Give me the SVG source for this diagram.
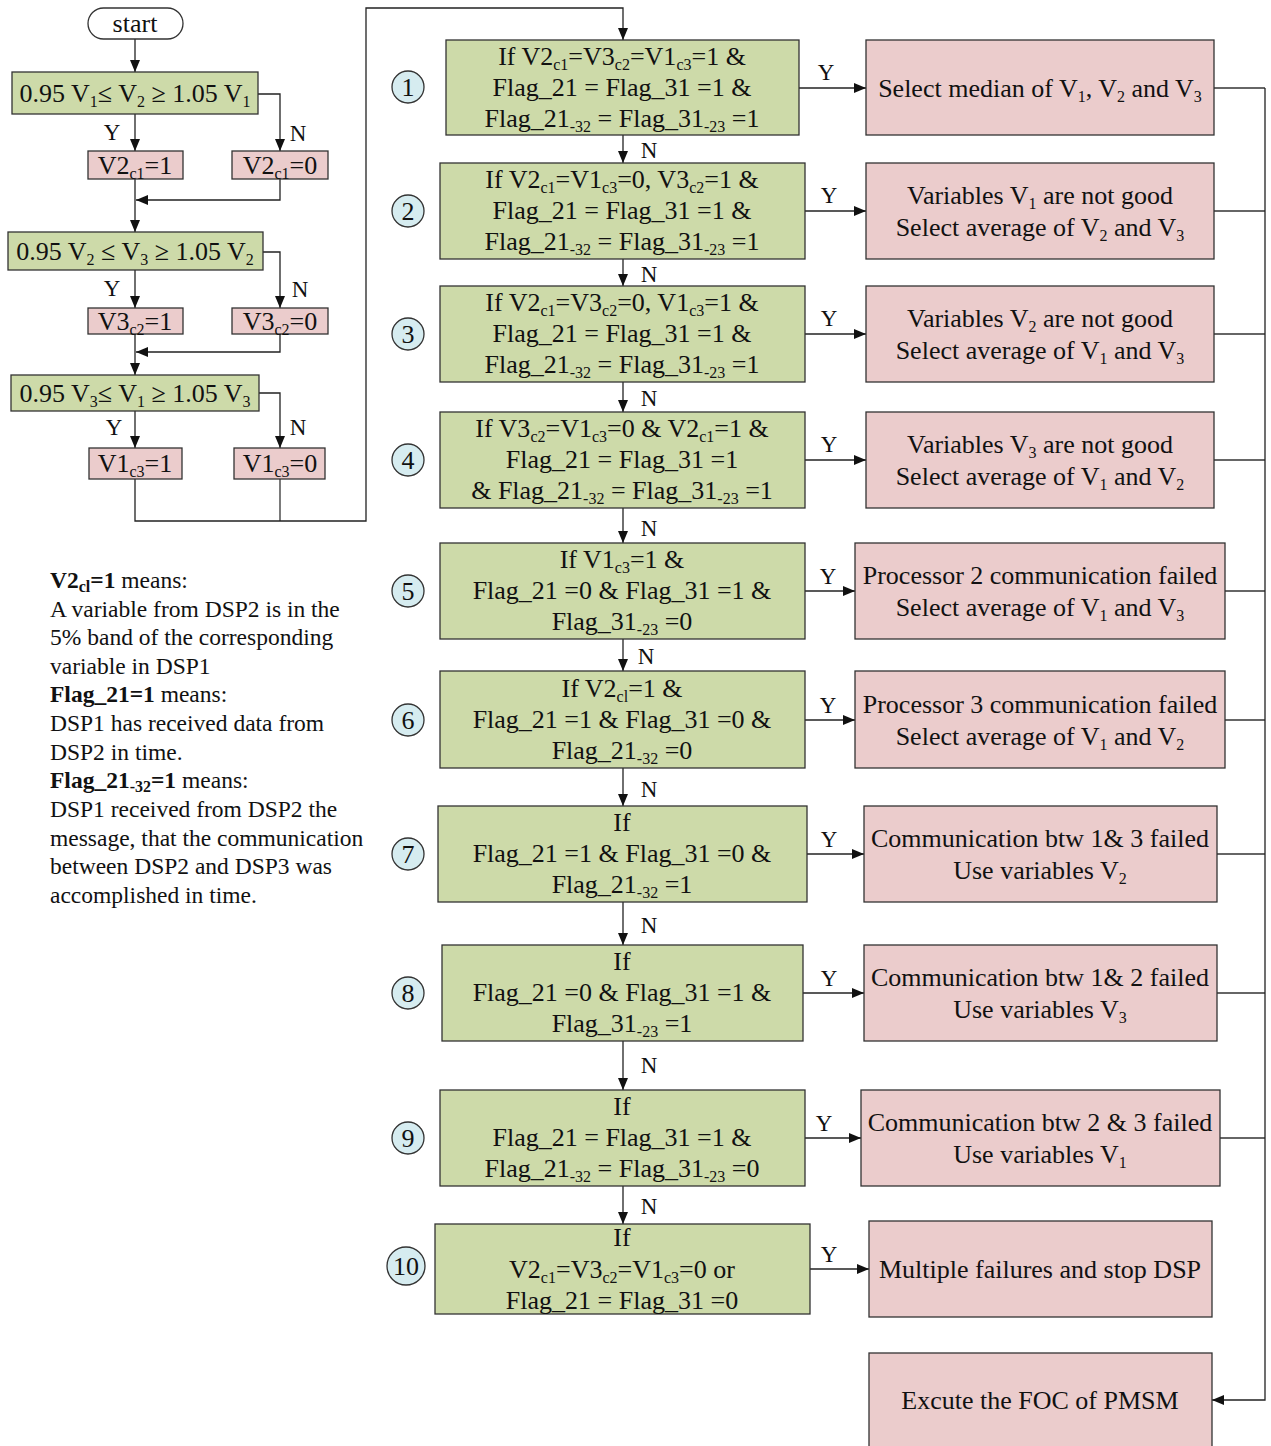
<svg xmlns="http://www.w3.org/2000/svg" width="1271" height="1446" viewBox="0 0 1271 1446">
  <style>
    text { font-family: "Liberation Serif", "Times New Roman", serif; fill: #111; }
    .t { font-size: 26px; text-anchor: middle; }
    .lbl { font-size: 23px; text-anchor: middle; }
    .leg { font-size: 23.5px; }
    .s { font-size: 16px; }
    .b { font-weight: bold; }
    .cond { fill: #cddaa9; stroke: #333; stroke-width: 1.3; }
    .act { fill: #ebcccc; stroke: #333; stroke-width: 1.3; }
    .num { fill: #d6ecf0; stroke: #333; stroke-width: 1.3; }
    .term { fill: #fff; stroke: #333; stroke-width: 1.3; }
    .wire { fill: none; stroke: #333; stroke-width: 1.3; }
    .arr { fill: none; stroke: #222; stroke-width: 1.3; marker-end: url(#head); }
  </style>
  <defs>
    <marker id="head" viewBox="0 0 12 10" refX="12" refY="5" markerWidth="12" markerHeight="10" markerUnits="userSpaceOnUse" orient="auto">
      <path d="M0,0 L12,5 L0,10 z" fill="#111"/>
    </marker>
  </defs>
  <rect width="1271" height="1446" fill="#fff"/>

  <!-- connectors -->
  <g id="connectors">
    <!-- left pre-check chain -->
    <path class="arr" d="M135,39 V72"/>
    <path class="arr" d="M258,94 H280 V151"/>
    <path class="arr" d="M135,114 V151"/>
    <path class="arr" d="M280,179 V200 H136"/>
    <path class="arr" d="M135,179 V232"/>
    <path class="arr" d="M263,252 H280 V308"/>
    <path class="arr" d="M135,270 V308"/>
    <path class="arr" d="M280,334 V352 H136"/>
    <path class="arr" d="M135,334 V375"/>
    <path class="arr" d="M259,393 H280 V448"/>
    <path class="arr" d="M135,411 V448"/>
    <path class="wire" d="M280,479 V521"/>
    <path class="arr" d="M135,479 V521 H366 V8 H623 V40"/>
    <!-- N chain -->
    <path class="arr" d="M623,135 V163"/>
    <path class="arr" d="M623,259 V286"/>
    <path class="arr" d="M623,382 V412"/>
    <path class="arr" d="M623,508 V543"/>
    <path class="arr" d="M623,639 V671"/>
    <path class="arr" d="M623,768 V806"/>
    <path class="arr" d="M623,902 V945"/>
    <path class="arr" d="M623,1041 V1090"/>
    <path class="arr" d="M623,1186 V1224"/>
    <!-- Y branches -->
    <path class="arr" d="M799,88 H866"/>
    <path class="arr" d="M805,211 H866"/>
    <path class="arr" d="M805,334 H866"/>
    <path class="arr" d="M805,460 H866"/>
    <path class="arr" d="M805,591 H855"/>
    <path class="arr" d="M805,720 H855"/>
    <path class="arr" d="M807,854 H864"/>
    <path class="arr" d="M803,993 H864"/>
    <path class="arr" d="M805,1138 H861"/>
    <path class="arr" d="M810,1269 H869"/>
    <!-- collector bus to FOC -->
    <path class="wire" d="M1214,88 H1265"/>
    <path class="wire" d="M1214,211 H1265"/>
    <path class="wire" d="M1214,334 H1265"/>
    <path class="wire" d="M1214,460 H1265"/>
    <path class="wire" d="M1225,591 H1265"/>
    <path class="wire" d="M1225,720 H1265"/>
    <path class="wire" d="M1217,854 H1265"/>
    <path class="wire" d="M1217,993 H1265"/>
    <path class="wire" d="M1220,1138 H1265"/>
    <path class="arr" d="M1265,88 V1400 H1212"/>
    <!-- Y / N labels -->
    <text class="lbl" x="112" y="140">Y</text>
    <text class="lbl" x="298" y="141">N</text>
    <text class="lbl" x="112" y="296">Y</text>
    <text class="lbl" x="300" y="297">N</text>
    <text class="lbl" x="114" y="435">Y</text>
    <text class="lbl" x="298" y="435">N</text>
    <text class="lbl" x="649" y="158">N</text>
    <text class="lbl" x="649" y="282">N</text>
    <text class="lbl" x="649" y="406">N</text>
    <text class="lbl" x="649" y="536">N</text>
    <text class="lbl" x="646" y="664">N</text>
    <text class="lbl" x="649" y="797">N</text>
    <text class="lbl" x="649" y="933">N</text>
    <text class="lbl" x="649" y="1073">N</text>
    <text class="lbl" x="649" y="1214">N</text>
    <text class="lbl" x="826" y="80">Y</text>
    <text class="lbl" x="829" y="203">Y</text>
    <text class="lbl" x="829" y="326">Y</text>
    <text class="lbl" x="829" y="452">Y</text>
    <text class="lbl" x="828" y="584">Y</text>
    <text class="lbl" x="828" y="713">Y</text>
    <text class="lbl" x="829" y="847">Y</text>
    <text class="lbl" x="829" y="986">Y</text>
    <text class="lbl" x="824" y="1131">Y</text>
    <text class="lbl" x="829" y="1262">Y</text>
  </g>

  <!-- left: tolerance checks -->
  <g id="start">
    <rect class="term" x="88" y="8" width="95" height="31" rx="15.5"/>
    <text class="t" x="135" y="32">start</text>
  </g>
  <g id="check12">
    <rect class="cond" x="12" y="72" width="246" height="42"/>
    <text class="t" x="135" y="102">0.95 V<tspan class="s" dy="5">1</tspan><tspan dy="-5">≤ V</tspan><tspan class="s" dy="5">2</tspan><tspan dy="-5"> ≥ 1.05 V</tspan><tspan class="s" dy="5">1</tspan></text>
  </g>
  <g id="v2c1-1">
    <rect class="act" x="88" y="151" width="95" height="28"/>
    <text class="t" x="135" y="174">V2<tspan class="s" dy="5">c1</tspan><tspan dy="-5">=1</tspan></text>
  </g>
  <g id="v2c1-0">
    <rect class="act" x="232" y="151" width="96" height="28"/>
    <text class="t" x="280" y="174">V2<tspan class="s" dy="5">c1</tspan><tspan dy="-5">=0</tspan></text>
  </g>
  <g id="check23">
    <rect class="cond" x="8" y="232" width="255" height="38"/>
    <text class="t" x="135" y="260">0.95 V<tspan class="s" dy="5">2</tspan><tspan dy="-5"> ≤ V</tspan><tspan class="s" dy="5">3</tspan><tspan dy="-5"> ≥ 1.05 V</tspan><tspan class="s" dy="5">2</tspan></text>
  </g>
  <g id="v3c2-1">
    <rect class="act" x="88" y="308" width="95" height="26"/>
    <text class="t" x="135" y="330">V3<tspan class="s" dy="5">c2</tspan><tspan dy="-5">=1</tspan></text>
  </g>
  <g id="v3c2-0">
    <rect class="act" x="232" y="308" width="96" height="26"/>
    <text class="t" x="280" y="330">V3<tspan class="s" dy="5">c2</tspan><tspan dy="-5">=0</tspan></text>
  </g>
  <g id="check31">
    <rect class="cond" x="11" y="375" width="248" height="36"/>
    <text class="t" x="135" y="402">0.95 V<tspan class="s" dy="5">3</tspan><tspan dy="-5">≤ V</tspan><tspan class="s" dy="5">1</tspan><tspan dy="-5"> ≥ 1.05 V</tspan><tspan class="s" dy="5">3</tspan></text>
  </g>
  <g id="v1c3-1">
    <rect class="act" x="89" y="448" width="93" height="31"/>
    <text class="t" x="135" y="472">V1<tspan class="s" dy="5">c3</tspan><tspan dy="-5">=1</tspan></text>
  </g>
  <g id="v1c3-0">
    <rect class="act" x="234" y="448" width="91" height="31"/>
    <text class="t" x="280" y="472">V1<tspan class="s" dy="5">c3</tspan><tspan dy="-5">=0</tspan></text>
  </g>

  <!-- legend -->
  <g id="legend" class="leg">
    <text x="50" y="588"><tspan class="b">V2<tspan class="s" dy="4">cl</tspan><tspan dy="-4">=1</tspan></tspan>  means:</text>
    <text x="50" y="617">A variable from DSP2 is in the</text>
    <text x="50" y="645">5% band of the corresponding</text>
    <text x="50" y="674">variable in DSP1</text>
    <text x="50" y="702"><tspan class="b">Flag_21=1</tspan> means:</text>
    <text x="50" y="731">DSP1 has received data from</text>
    <text x="50" y="760">DSP2 in time.</text>
    <text x="50" y="788"><tspan class="b">Flag_21<tspan class="s" dy="4">-32</tspan><tspan dy="-4">=1</tspan></tspan> means:</text>
    <text x="50" y="817">DSP1 received from DSP2 the</text>
    <text x="50" y="846">message, that the communication</text>
    <text x="50" y="874">between DSP2 and DSP3 was</text>
    <text x="50" y="903">accomplished in time.</text>
  </g>

  <!-- decision chain -->
  <g id="case1">
    <circle class="num" cx="408" cy="87" r="16"/>
    <text class="t" x="408" y="96">1</text>
    <rect class="cond" x="446" y="40" width="353" height="95"/>
    <text class="t" x="622" y="65">If V2<tspan class="s" dy="5">c1</tspan><tspan dy="-5">=V3</tspan><tspan class="s" dy="5">c2</tspan><tspan dy="-5">=V1</tspan><tspan class="s" dy="5">c3</tspan><tspan dy="-5">=1 &amp;</tspan></text>
    <text class="t" x="622" y="96">Flag_21 = Flag_31 =1 &amp;</text>
    <text class="t" x="622" y="127">Flag_21<tspan class="s" dy="5">-32</tspan><tspan dy="-5"> = Flag_31</tspan><tspan class="s" dy="5">-23</tspan><tspan dy="-5"> =1</tspan></text>
  </g>
  <g id="case2">
    <circle class="num" cx="408" cy="211" r="16"/>
    <text class="t" x="408" y="220">2</text>
    <rect class="cond" x="440" y="163" width="365" height="96"/>
    <text class="t" x="622" y="188">If V2<tspan class="s" dy="5">c1</tspan><tspan dy="-5">=V1</tspan><tspan class="s" dy="5">c3</tspan><tspan dy="-5">=0, V3</tspan><tspan class="s" dy="5">c2</tspan><tspan dy="-5">=1 &amp;</tspan></text>
    <text class="t" x="622" y="219">Flag_21 = Flag_31 =1 &amp;</text>
    <text class="t" x="622" y="250">Flag_21<tspan class="s" dy="5">-32</tspan><tspan dy="-5"> = Flag_31</tspan><tspan class="s" dy="5">-23</tspan><tspan dy="-5"> =1</tspan></text>
  </g>
  <g id="case3">
    <circle class="num" cx="408" cy="334" r="16"/>
    <text class="t" x="408" y="343">3</text>
    <rect class="cond" x="440" y="286" width="365" height="96"/>
    <text class="t" x="622" y="311">If V2<tspan class="s" dy="5">c1</tspan><tspan dy="-5">=V3</tspan><tspan class="s" dy="5">c2</tspan><tspan dy="-5">=0, V1</tspan><tspan class="s" dy="5">c3</tspan><tspan dy="-5">=1 &amp;</tspan></text>
    <text class="t" x="622" y="342">Flag_21 = Flag_31 =1 &amp;</text>
    <text class="t" x="622" y="373">Flag_21<tspan class="s" dy="5">-32</tspan><tspan dy="-5"> = Flag_31</tspan><tspan class="s" dy="5">-23</tspan><tspan dy="-5"> =1</tspan></text>
  </g>
  <g id="case4">
    <circle class="num" cx="408" cy="460" r="16"/>
    <text class="t" x="408" y="469">4</text>
    <rect class="cond" x="440" y="412" width="365" height="96"/>
    <text class="t" x="622" y="437">If V3<tspan class="s" dy="5">c2</tspan><tspan dy="-5">=V1</tspan><tspan class="s" dy="5">c3</tspan><tspan dy="-5">=0 &amp; V2</tspan><tspan class="s" dy="5">c1</tspan><tspan dy="-5">=1 &amp;</tspan></text>
    <text class="t" x="622" y="468">Flag_21 = Flag_31 =1</text>
    <text class="t" x="622" y="499">&amp; Flag_21<tspan class="s" dy="5">-32</tspan><tspan dy="-5"> = Flag_31</tspan><tspan class="s" dy="5">-23</tspan><tspan dy="-5"> =1</tspan></text>
  </g>
  <g id="case5">
    <circle class="num" cx="408" cy="591" r="16"/>
    <text class="t" x="408" y="600">5</text>
    <rect class="cond" x="440" y="543" width="365" height="96"/>
    <text class="t" x="622" y="568">If V1<tspan class="s" dy="5">c3</tspan><tspan dy="-5">=1 &amp;</tspan></text>
    <text class="t" x="622" y="599">Flag_21 =0 &amp; Flag_31 =1 &amp;</text>
    <text class="t" x="622" y="630">Flag_31<tspan class="s" dy="5">-23</tspan><tspan dy="-5"> =0</tspan></text>
  </g>
  <g id="case6">
    <circle class="num" cx="408" cy="720" r="16"/>
    <text class="t" x="408" y="729">6</text>
    <rect class="cond" x="440" y="671" width="365" height="97"/>
    <text class="t" x="622" y="697">If V2<tspan class="s" dy="5">cl</tspan><tspan dy="-5">=1 &amp;</tspan></text>
    <text class="t" x="622" y="728">Flag_21 =1 &amp; Flag_31 =0 &amp;</text>
    <text class="t" x="622" y="759">Flag_21<tspan class="s" dy="5">-32</tspan><tspan dy="-5"> =0</tspan></text>
  </g>
  <g id="case7">
    <circle class="num" cx="408" cy="854" r="16"/>
    <text class="t" x="408" y="863">7</text>
    <rect class="cond" x="438" y="806" width="369" height="96"/>
    <text class="t" x="622" y="831">If</text>
    <text class="t" x="622" y="862">Flag_21 =1 &amp; Flag_31 =0 &amp;</text>
    <text class="t" x="622" y="893">Flag_21<tspan class="s" dy="5">-32</tspan><tspan dy="-5"> =1</tspan></text>
  </g>
  <g id="case8">
    <circle class="num" cx="408" cy="993" r="16"/>
    <text class="t" x="408" y="1002">8</text>
    <rect class="cond" x="442" y="945" width="361" height="96"/>
    <text class="t" x="622" y="970">If</text>
    <text class="t" x="622" y="1001">Flag_21 =0 &amp; Flag_31 =1 &amp;</text>
    <text class="t" x="622" y="1032">Flag_31<tspan class="s" dy="5">-23</tspan><tspan dy="-5"> =1</tspan></text>
  </g>
  <g id="case9">
    <circle class="num" cx="408" cy="1138" r="16"/>
    <text class="t" x="408" y="1147">9</text>
    <rect class="cond" x="440" y="1090" width="365" height="96"/>
    <text class="t" x="622" y="1115">If</text>
    <text class="t" x="622" y="1146">Flag_21 = Flag_31 =1 &amp;</text>
    <text class="t" x="622" y="1177">Flag_21<tspan class="s" dy="5">-32</tspan><tspan dy="-5"> = Flag_31</tspan><tspan class="s" dy="5">-23</tspan><tspan dy="-5"> =0</tspan></text>
  </g>
  <g id="case10">
    <circle class="num" cx="406" cy="1266" r="19"/>
    <text class="t" x="406" y="1275">10</text>
    <rect class="cond" x="435" y="1224" width="375" height="90"/>
    <text class="t" x="622" y="1246">If</text>
    <text class="t" x="622" y="1278">V2<tspan class="s" dy="5">c1</tspan><tspan dy="-5">=V3</tspan><tspan class="s" dy="5">c2</tspan><tspan dy="-5">=V1</tspan><tspan class="s" dy="5">c3</tspan><tspan dy="-5">=0 or</tspan></text>
    <text class="t" x="622" y="1309">Flag_21 = Flag_31 =0</text>
  </g>

  <!-- actions -->
  <g id="act1">
    <rect class="act" x="866" y="40" width="348" height="95"/>
    <text class="t" x="1040" y="97">Select median of V<tspan class="s" dy="5">1</tspan><tspan dy="-5">, V</tspan><tspan class="s" dy="5">2</tspan><tspan dy="-5"> and V</tspan><tspan class="s" dy="5">3</tspan></text>
  </g>
  <g id="act2">
    <rect class="act" x="866" y="163" width="348" height="96"/>
    <text class="t" x="1040" y="204">Variables V<tspan class="s" dy="5">1</tspan><tspan dy="-5"> are not good</tspan></text>
    <text class="t" x="1040" y="236">Select average of V<tspan class="s" dy="5">2</tspan><tspan dy="-5"> and V</tspan><tspan class="s" dy="5">3</tspan></text>
  </g>
  <g id="act3">
    <rect class="act" x="866" y="286" width="348" height="96"/>
    <text class="t" x="1040" y="327">Variables V<tspan class="s" dy="5">2</tspan><tspan dy="-5"> are not good</tspan></text>
    <text class="t" x="1040" y="359">Select average of V<tspan class="s" dy="5">1</tspan><tspan dy="-5"> and V</tspan><tspan class="s" dy="5">3</tspan></text>
  </g>
  <g id="act4">
    <rect class="act" x="866" y="412" width="348" height="96"/>
    <text class="t" x="1040" y="453">Variables V<tspan class="s" dy="5">3</tspan><tspan dy="-5"> are not good</tspan></text>
    <text class="t" x="1040" y="485">Select average of V<tspan class="s" dy="5">1</tspan><tspan dy="-5"> and V</tspan><tspan class="s" dy="5">2</tspan></text>
  </g>
  <g id="act5">
    <rect class="act" x="855" y="543" width="370" height="96"/>
    <text class="t" x="1040" y="584">Processor 2 communication failed</text>
    <text class="t" x="1040" y="616">Select average of V<tspan class="s" dy="5">1</tspan><tspan dy="-5"> and V</tspan><tspan class="s" dy="5">3</tspan></text>
  </g>
  <g id="act6">
    <rect class="act" x="855" y="671" width="370" height="97"/>
    <text class="t" x="1040" y="713">Processor 3 communication failed</text>
    <text class="t" x="1040" y="745">Select average of V<tspan class="s" dy="5">1</tspan><tspan dy="-5"> and V</tspan><tspan class="s" dy="5">2</tspan></text>
  </g>
  <g id="act7">
    <rect class="act" x="864" y="806" width="353" height="96"/>
    <text class="t" x="1040" y="847">Communication btw 1&amp; 3 failed</text>
    <text class="t" x="1040" y="879">Use variables V<tspan class="s" dy="5">2</tspan></text>
  </g>
  <g id="act8">
    <rect class="act" x="864" y="945" width="353" height="96"/>
    <text class="t" x="1040" y="986">Communication btw 1&amp; 2 failed</text>
    <text class="t" x="1040" y="1018">Use variables V<tspan class="s" dy="5">3</tspan></text>
  </g>
  <g id="act9">
    <rect class="act" x="861" y="1090" width="359" height="96"/>
    <text class="t" x="1040" y="1131">Communication btw 2 &amp; 3 failed</text>
    <text class="t" x="1040" y="1163">Use variables V<tspan class="s" dy="5">1</tspan></text>
  </g>
  <g id="act10">
    <rect class="act" x="869" y="1221" width="343" height="96"/>
    <text class="t" x="1040" y="1278">Multiple failures and stop DSP</text>
  </g>
  <g id="foc">
    <rect class="act" x="869" y="1353" width="343" height="100"/>
    <text class="t" x="1040" y="1409">Excute the FOC of PMSM</text>
  </g>
</svg>
